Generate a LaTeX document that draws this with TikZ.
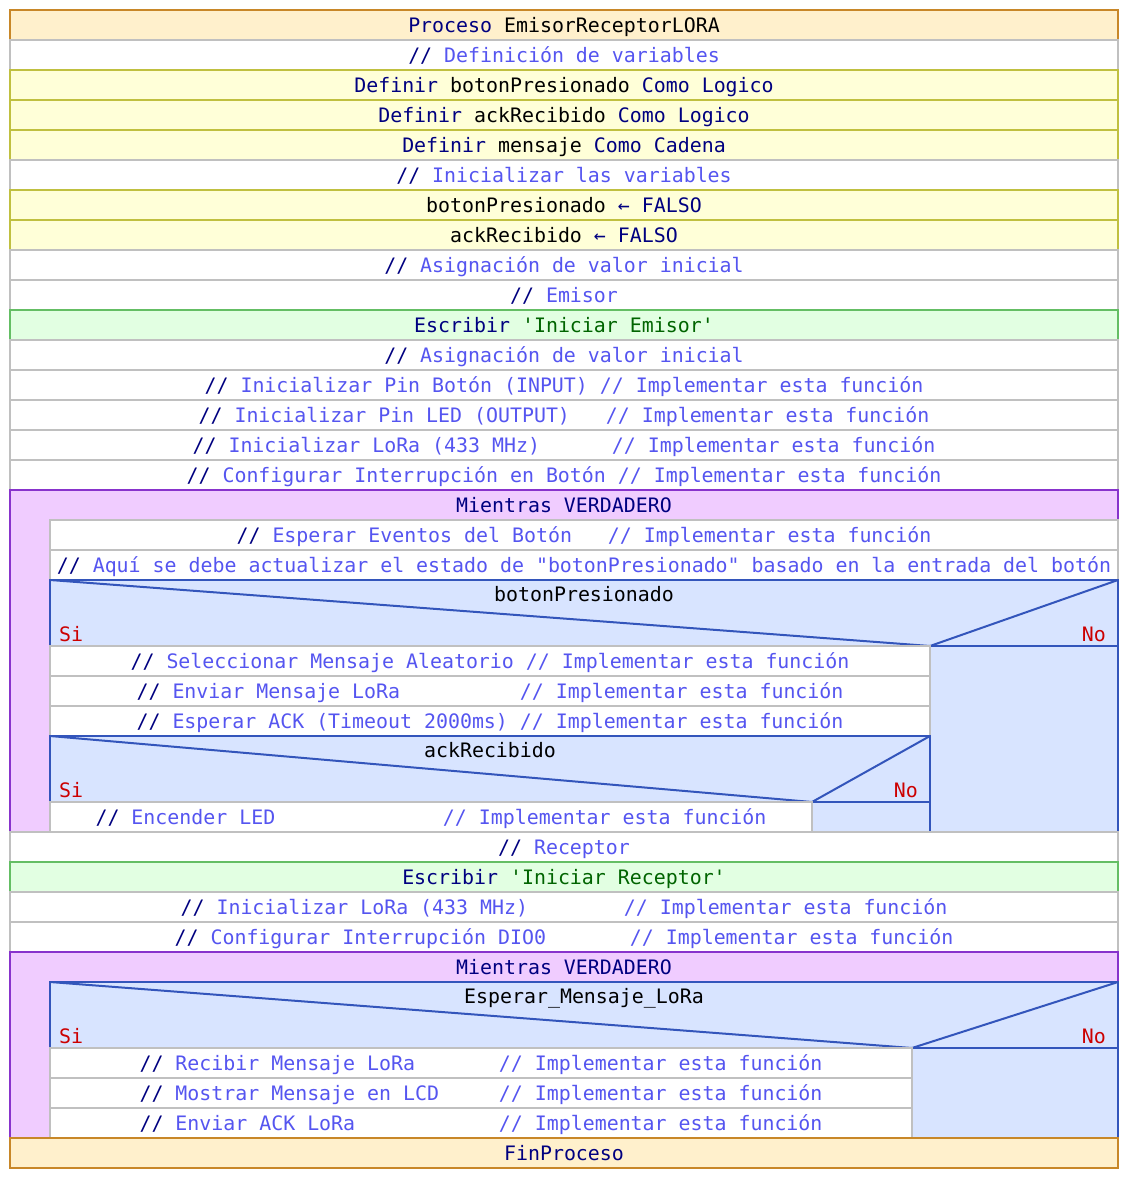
\documentclass[tikz,border=0pt]{standalone}
\usepackage{fontspec}
\newfontfamily\codefont{DejaVu Sans Mono}

\definecolor{kwcol}{RGB}{0,0,128}
\definecolor{cmtcol}{RGB}{85,85,240}
\definecolor{strcol}{RGB}{0,100,0}
\definecolor{sinocol}{RGB}{204,0,0}
\definecolor{procfill}{RGB}{255,240,204}
\definecolor{procline}{RGB}{200,135,40}
\definecolor{deffill}{RGB}{255,255,216}
\definecolor{defline}{RGB}{192,192,64}
\definecolor{cmtline}{RGB}{192,192,192}
\definecolor{escfill}{RGB}{226,255,226}
\definecolor{escline}{RGB}{100,190,100}
\definecolor{loopfill}{RGB}{240,204,255}
\definecolor{loopline}{RGB}{136,51,204}
\definecolor{iffill}{RGB}{216,228,255}
\definecolor{ifline}{RGB}{51,85,187}

\newcommand{\kw}[1]{\textcolor{kwcol}{#1}}
\newcommand{\cmt}[1]{\textcolor{kwcol}{//} \textcolor{cmtcol}{#1}}

\tikzset{
	txt/.style={anchor=base, inner sep=0pt, font=\codefont\fontsize{19.9}{24}\selectfont},
	sino/.style={txt, text=sinocol},
	procrow/.style={fill=procfill, draw=procline, line width=2pt},
	defrow/.style={fill=deffill, draw=defline, line width=2pt},
	cmtrow/.style={fill=white, draw=cmtline, line width=2pt},
	escrow/.style={fill=escfill, draw=escline, line width=2pt},
	loopbox/.style={fill=loopfill, draw=loopline, line width=2pt},
	ifbox/.style={fill=iffill, draw=ifline, line width=2pt},
	ifdiag/.style={draw=ifline, line width=2pt}
}

\begin{document}
\begin{tikzpicture}[x=1pt, y=-1pt]
		\useasboundingbox (0,0) rectangle (1128,1178);
		% cabecera y definiciones
		\filldraw[procrow] (10,10) rectangle (1118,40);
		\node[txt] (proc) at (564,32) {\kw{Proceso} EmisorReceptorLORA};
		\filldraw[cmtrow] (10,40) rectangle (1118,70);
		\node[txt] (cmtdef) at (564,62) {\cmt{Definición de variables}};
		\filldraw[defrow] (10,70) rectangle (1118,100);
		\node[txt] (defboton) at (564,92) {\kw{Definir} botonPresionado \kw{Como} \kw{Logico}};
		\filldraw[defrow] (10,100) rectangle (1118,130);
		\node[txt] (defack) at (564,122) {\kw{Definir} ackRecibido \kw{Como} \kw{Logico}};
		\filldraw[defrow] (10,130) rectangle (1118,160);
		\node[txt] (defmsg) at (564,152) {\kw{Definir} mensaje \kw{Como} \kw{Cadena}};
		\filldraw[cmtrow] (10,160) rectangle (1118,190);
		\node[txt] (cmtinit) at (564,182) {\cmt{Inicializar las variables}};
		\filldraw[defrow] (10,190) rectangle (1118,220);
		\node[txt] (asigboton) at (564,212) {botonPresionado \kw{← FALSO}};
		\filldraw[defrow] (10,220) rectangle (1118,250);
		\node[txt] (asigack) at (564,242) {ackRecibido \kw{← FALSO}};
		\filldraw[cmtrow] (10,250) rectangle (1118,280);
		\node[txt] (cmtasig) at (564,272) {\cmt{Asignación de valor inicial}};
		% emisor
		\filldraw[cmtrow] (10,280) rectangle (1118,310);
		\node[txt] (cmtemisor) at (564,302) {\cmt{Emisor}};
		\filldraw[escrow] (10,310) rectangle (1118,340);
		\node[txt] (escemisor) at (564,332) {\kw{Escribir} \textcolor{strcol}{'Iniciar Emisor'}};
		\filldraw[cmtrow] (10,340) rectangle (1118,370);
		\node[txt] (cmtasigb) at (564,362) {\cmt{Asignación de valor inicial}};
		\filldraw[cmtrow] (10,370) rectangle (1118,400);
		\node[txt] (cmtpin) at (564,392) {\cmt{Inicializar Pin Botón (INPUT) // Implementar esta función}};
		\filldraw[cmtrow] (10,400) rectangle (1118,430);
		\node[txt] (cmtled) at (564,422) {\cmt{Inicializar Pin LED (OUTPUT)~~~// Implementar esta función}};
		\filldraw[cmtrow] (10,430) rectangle (1118,460);
		\node[txt] (cmtlora) at (564,452) {\cmt{Inicializar LoRa (433 MHz)~~~~~~// Implementar esta función}};
		\filldraw[cmtrow] (10,460) rectangle (1118,490);
		\node[txt] (cmtint) at (564,482) {\cmt{Configurar Interrupción en Botón // Implementar esta función}};
		% bucle del emisor
		\filldraw[loopbox] (10,490) rectangle (1118,832);
		\node[txt] (loopa) at (564,512) {\kw{Mientras VERDADERO}};
		\filldraw[cmtrow] (50,520) rectangle (1118,550);
		\node[txt] (cmtesperar) at (584,542) {\cmt{Esperar Eventos del Botón~~~// Implementar esta función}};
		\filldraw[cmtrow] (50,550) rectangle (1118,580);
		\node[txt] (cmtaqui) at (584,572) {\cmt{Aquí se debe actualizar el estado de "botonPresionado" basado en la entrada del botón}};
		\filldraw[ifbox] (50,580) rectangle (1118,832);
		\draw[ifdiag] (50,580) -- (930,646) -- (1118,580);
		\draw[ifdiag] (930,646) -- (1118,646);
		\node[txt] (condboton) at (584,601) {botonPresionado};
		\node[sino, anchor=base west] (sia) at (59,641) {Si};
		\node[sino, anchor=base east] (noa) at (1106,641) {No};
		\filldraw[cmtrow] (50,646) rectangle (930,676);
		\node[txt] (cmtsel) at (490,668) {\cmt{Seleccionar Mensaje Aleatorio // Implementar esta función}};
		\filldraw[cmtrow] (50,676) rectangle (930,706);
		\node[txt] (cmtenviar) at (490,698) {\cmt{Enviar Mensaje LoRa~~~~~~~~~~// Implementar esta función}};
		\filldraw[cmtrow] (50,706) rectangle (930,736);
		\node[txt] (cmtack) at (490,728) {\cmt{Esperar ACK (Timeout 2000ms) // Implementar esta función}};
		\filldraw[ifbox] (50,736) rectangle (930,832);
		\draw[ifdiag] (50,736) -- (812,802) -- (930,736);
		\draw[ifdiag] (812,802) -- (930,802);
		\node[txt] (condack) at (490,757) {ackRecibido};
		\node[sino, anchor=base west] (sib) at (59,797) {Si};
		\node[sino, anchor=base east] (nob) at (918,797) {No};
		\filldraw[cmtrow] (50,802) rectangle (812,832);
		\node[txt] (cmtencender) at (431,824) {\cmt{Encender LED~~~~~~~~~~~~~~// Implementar esta función}};
		% receptor
		\filldraw[cmtrow] (10,832) rectangle (1118,862);
		\node[txt] (cmtreceptor) at (564,854) {\cmt{Receptor}};
		\filldraw[escrow] (10,862) rectangle (1118,892);
		\node[txt] (escreceptor) at (564,884) {\kw{Escribir} \textcolor{strcol}{'Iniciar Receptor'}};
		\filldraw[cmtrow] (10,892) rectangle (1118,922);
		\node[txt] (cmtlorab) at (564,914) {\cmt{Inicializar LoRa (433 MHz)~~~~~~~~// Implementar esta función}};
		\filldraw[cmtrow] (10,922) rectangle (1118,952);
		\node[txt] (cmtdio) at (564,944) {\cmt{Configurar Interrupción DIO0~~~~~~~// Implementar esta función}};
		% bucle del receptor
		\filldraw[loopbox] (10,952) rectangle (1118,1138);
		\node[txt] (loopb) at (564,974) {\kw{Mientras VERDADERO}};
		\filldraw[ifbox] (50,982) rectangle (1118,1138);
		\draw[ifdiag] (50,982) -- (912,1048) -- (1118,982);
		\draw[ifdiag] (912,1048) -- (1118,1048);
		\node[txt] (condmsg) at (584,1003) {Esperar\_Mensaje\_LoRa};
		\node[sino, anchor=base west] (sic) at (59,1043) {Si};
		\node[sino, anchor=base east] (noc) at (1106,1043) {No};
		\filldraw[cmtrow] (50,1048) rectangle (912,1078);
		\node[txt] (cmtrecibir) at (481,1070) {\cmt{Recibir Mensaje LoRa~~~~~~~// Implementar esta función}};
		\filldraw[cmtrow] (50,1078) rectangle (912,1108);
		\node[txt] (cmtmostrar) at (481,1100) {\cmt{Mostrar Mensaje en LCD~~~~~// Implementar esta función}};
		\filldraw[cmtrow] (50,1108) rectangle (912,1138);
		\node[txt] (cmtenviarack) at (481,1130) {\cmt{Enviar ACK LoRa~~~~~~~~~~~~// Implementar esta función}};
		% fin
		\filldraw[procrow] (10,1138) rectangle (1118,1168);
		\node[txt] (finproc) at (564,1160) {\kw{FinProceso}};
	\end{tikzpicture}
\end{document}
